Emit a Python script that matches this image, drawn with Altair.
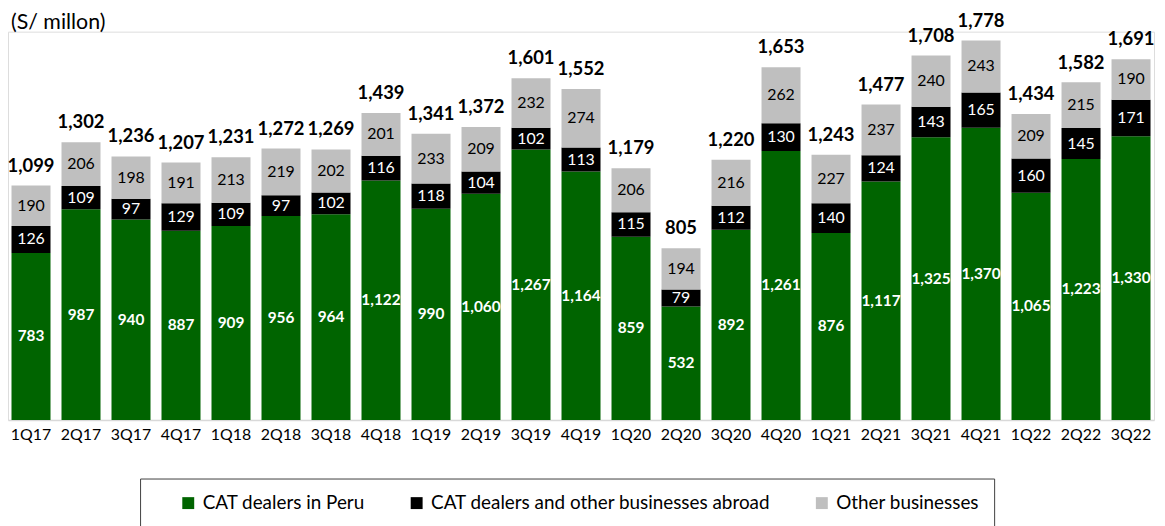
import altair as alt
import pandas as pd

quarters = ["1Q17", "2Q17", "3Q17", "4Q17", "1Q18", "2Q18", "3Q18", "4Q18",
            "1Q19", "2Q19", "3Q19", "4Q19", "1Q20", "2Q20", "3Q20", "4Q20",
            "1Q21", "2Q21", "3Q21", "4Q21", "1Q22", "2Q22", "3Q22"]
peru = [783, 987, 940, 887, 909, 956, 964, 1122, 990, 1060, 1267, 1164,
        859, 532, 892, 1261, 876, 1117, 1325, 1370, 1065, 1223, 1330]
abroad = [126, 109, 97, 129, 109, 97, 102, 116, 118, 104, 102, 113,
          115, 79, 112, 130, 140, 124, 143, 165, 160, 145, 171]
other = [190, 206, 198, 191, 213, 219, 202, 201, 233, 209, 232, 274,
         206, 194, 216, 262, 227, 237, 240, 243, 209, 215, 190]
totals = [1099, 1302, 1236, 1207, 1231, 1272, 1269, 1439, 1341, 1372, 1601, 1552,
          1179, 805, 1220, 1653, 1243, 1477, 1708, 1778, 1434, 1582, 1691]

series_names = ["CAT dealers in Peru", "CAT dealers and other businesses abroad", "Other businesses"]
series_colors = ["#006400", "#000000", "#BFBFBF"]

rows = []
for i, q in enumerate(quarters):
    for k, (name, vals) in enumerate(zip(series_names, [peru, abroad, other])):
        rows.append({"quarter": q, "series": name, "value": vals[i], "order": k})
df = pd.DataFrame(rows)
tot_df = pd.DataFrame({"quarter": quarters, "total": totals})
title_df = pd.DataFrame({"t": ["(S/ millon)"]})

FONT = "Lato"

x_enc = alt.X("quarter:N", sort=quarters, title=None,
              scale=alt.Scale(paddingInner=0.22, paddingOuter=0.07),
              axis=alt.Axis(labelAngle=0, labelFontSize=16, labelFont=FONT, labelColor="#000000",
                            ticks=False, domainColor="#D9D9D9", domainWidth=1.5, labelPadding=7))
y_scale = alt.Scale(domain=[0, 1820], nice=False)

base = alt.Chart(df).transform_stack(
    stack="value", groupby=["quarter"], sort=[alt.SortField("order")], as_=["y0", "y1"]
).transform_calculate(mid="(datum.y0 + datum.y1) / 2")

bars = base.mark_bar().encode(
    x=x_enc,
    y=alt.Y("y0:Q", scale=y_scale, axis=None, title=None),
    y2="y1:Q",
    color=alt.Color("series:N", sort=series_names,
                    scale=alt.Scale(domain=series_names, range=series_colors),
                    legend=alt.Legend(title=None, orient="none", direction="horizontal",
                                      legendX=133, legendY=450, padding=15, symbolOffset=24,
                                      strokeColor="#404040",
                                      symbolType="square", symbolSize=144, symbolStrokeWidth=0,
                                      labelFont=FONT, labelFontSize=19, labelColor="#000000",
                                      labelOffset=5, columnPadding=18, labelLimit=500)),
)

lab_peru = base.transform_filter(alt.datum.order == 0).mark_text(
    font=FONT, fontSize=15.5, fontWeight="bold", color="white", baseline="middle"
).encode(x=alt.X("quarter:N", sort=quarters), y=alt.Y("mid:Q", scale=y_scale),
         text=alt.Text("value:Q", format=","))

lab_abroad = base.transform_filter(alt.datum.order == 1).mark_text(
    font=FONT, fontSize=16, color="white", baseline="middle"
).encode(x=alt.X("quarter:N", sort=quarters), y=alt.Y("mid:Q", scale=y_scale),
         text=alt.Text("value:Q", format=","))

lab_other = base.transform_filter(alt.datum.order == 2).mark_text(
    font=FONT, fontSize=16, color="#000000", baseline="middle"
).encode(x=alt.X("quarter:N", sort=quarters), y=alt.Y("mid:Q", scale=y_scale),
         text=alt.Text("value:Q", format=","))

tot = alt.Chart(tot_df).mark_text(
    font=FONT, fontSize=18.5, fontWeight="bold", color="#000000", baseline="middle", dy=-20
).encode(x=alt.X("quarter:N", sort=quarters), y=alt.Y("total:Q", scale=y_scale),
         text=alt.Text("total:Q", format=","))

ttl = alt.Chart(title_df).mark_text(
    font=FONT, fontSize=21.5, color="#000000", align="left", baseline="top"
).encode(x=alt.value(3), y=alt.value(-20), text="t:N")

chart = alt.layer(bars, lab_peru, lab_abroad, lab_other, tot, ttl).properties(
    width=1154, height=391,
    autosize=alt.AutoSizeParams(type="none"),
    padding={"left": 0, "top": 22, "right": 3, "bottom": 105},
).configure_view(stroke=None).configure_legend(strokeWidth=1.5).configure(background="white")

chart.save("out.html", embed_options={"renderer": "svg", "actions": False})
